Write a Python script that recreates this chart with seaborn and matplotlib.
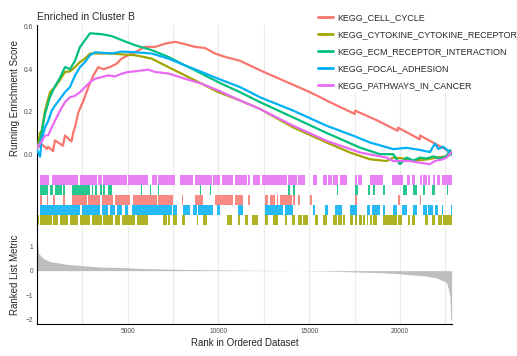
import numpy as np
import pandas as pd
import matplotlib
matplotlib.use('Agg')
import matplotlib.pyplot as plt
from matplotlib.lines import Line2D
from matplotlib.patches import Rectangle
import seaborn as sns

sns.set_style('white')
plt.rcParams['font.family'] = ['Liberation Sans', 'DejaVu Sans']

n_genes = 22850
gene_sets = ['KEGG_CELL_CYCLE', 'KEGG_CYTOKINE_CYTOKINE_RECEPTOR_INTERACTION',
             'KEGG_ECM_RECEPTOR_INTERACTION', 'KEGG_FOCAL_ADHESION',
             'KEGG_PATHWAYS_IN_CANCER']
colors = ['#F8766D', '#A3A500', '#00BF7D', '#00B0F6', '#E76BF3']

# running enrichment score
cell_cycle_rank = [1, 165, 276, 551, 606, 880, 990, 1430, 1540, 1900, 1990, 2090, 2275, 2550,
                   2830, 3105, 3380, 3655, 4020, 4390, 4665, 5035, 5400, 5950, 6500, 7055,
                   7600, 8155, 8705, 9255, 9810, 10360, 11185, 12290, 13760, 15040, 16330,
                   17500, 17530, 18720, 19880, 19900, 21090, 21110, 22575, 22850]
cell_cycle_es = [0.04, 0.035, 0.045, 0.025, 0.035, 0.015, 0.065, 0.04, 0.088, 0.06, 0.10,
                 0.126, 0.197, 0.25, 0.316, 0.371, 0.41, 0.40, 0.41, 0.426, 0.45, 0.466,
                 0.48, 0.505, 0.505, 0.52, 0.529, 0.518, 0.505, 0.50, 0.474, 0.458, 0.44,
                 0.395, 0.34, 0.292, 0.237, 0.19, 0.205, 0.16, 0.11, 0.125, 0.07, 0.088,
                 0.02, 0.0]

cytokine_rank = [1, 72, 165, 257, 440, 716, 992, 1267, 1543, 1818, 2094, 2369, 2645, 2920,
                 3564, 4115, 4667, 5400, 6320, 7235, 8155, 9075, 9990, 11185, 12290, 14120,
                 15960, 17250, 18350, 19260, 19630, 20180, 20740, 21470, 22020, 22570, 22850]
cytokine_es = [0.03, 0.05, 0.1, 0.11, 0.205, 0.292, 0.316, 0.35, 0.387, 0.39, 0.41, 0.434,
               0.45, 0.474, 0.474, 0.474, 0.47, 0.466, 0.45, 0.41, 0.371, 0.332, 0.292,
               0.253, 0.213, 0.126, 0.055, 0.008, -0.024, -0.032, -0.016, -0.02, -0.03,
               -0.025, -0.016, -0.01, 0.0]

ecm_rank = [1, 165, 440, 716, 992, 1267, 1543, 1818, 2094, 2369, 2645, 2920, 3564, 4115,
            4667, 5400, 6320, 7235, 8155, 9075, 9990, 11185, 12290, 14120, 15960, 17800,
            18900, 19630, 20000, 20370, 20740, 21100, 21470, 21840, 22200, 22570, 22760, 22850]
ecm_es = [0.03, 0.06, 0.19, 0.27, 0.32, 0.36, 0.41, 0.40, 0.44, 0.505, 0.537, 0.569, 0.565,
          0.556, 0.537, 0.513, 0.49, 0.458, 0.418, 0.379, 0.339, 0.292, 0.245, 0.173, 0.10,
          0.031, 0.0, 0.0, -0.047, -0.016, -0.03, -0.016, -0.02, -0.01, -0.02, -0.01, 0.02, 0.0]

focal_rank = [1, 165, 257, 440, 625, 808, 992, 1267, 1543, 1818, 2094, 2369, 2645, 2920,
              3196, 4115, 4667, 5400, 6320, 7235, 8155, 9075, 9990, 11185, 12290, 14120,
              15960, 17430, 18350, 19630, 20370, 21100, 21650, 21930, 22110, 22390, 22670, 22850]
focal_es = [0.02, -0.012, 0.07, 0.126, 0.158, 0.205, 0.229, 0.26, 0.292, 0.316, 0.371, 0.41,
            0.434, 0.466, 0.48, 0.474, 0.483, 0.48, 0.474, 0.45, 0.418, 0.387, 0.355, 0.316,
            0.268, 0.205, 0.134, 0.087, 0.055, 0.024, 0.03, 0.02, 0.01, 0.05, 0.025, 0.035,
            0.015, 0.0]

cancer_rank = [1, 72, 257, 440, 625, 808, 992, 1267, 1543, 1818, 2094, 2369, 2645, 2920,
               3196, 3564, 3930, 4300, 4667, 5035, 5400, 6135, 6500, 7235, 8155, 9075, 9990,
               11185, 12290, 14120, 15960, 17800, 19260, 19630, 20550, 21100, 21650, 21930,
               22300, 22570, 22850]
cancer_es = [0.03, 0.04, 0.06, 0.087, 0.09, 0.126, 0.158, 0.205, 0.245, 0.268, 0.275, 0.292,
             0.316, 0.339, 0.355, 0.363, 0.371, 0.366, 0.379, 0.387, 0.39, 0.398, 0.387, 0.38,
             0.355, 0.332, 0.30, 0.253, 0.213, 0.134, 0.063, 0.008, -0.016, -0.032, -0.032,
             -0.04, -0.047, -0.032, -0.025, -0.016, 0.01]

# gene set hits as (start, end) rank spans
cell_cycle_hits = [(165, 276), (551, 606), (882, 992), (1433, 1543), (1929, 2755), (2810, 3471),
                   (3582, 4188), (4298, 5124), (5290, 6612), (6667, 7494), (7690, 7740),
                   (7990, 8045), (8706, 9147), (9808, 10800), (10910, 11351), (11626, 11736),
                   (12563, 12728), (12838, 13114), (13224, 13279), (13389, 14051), (14106, 14216),
                   (14381, 14491), (15043, 15153), (17522, 17632), (19891, 20001), (21103, 21158)]
cytokine_hits = [(0, 110), (165, 827), (882, 1157), (1267, 1708), (1818, 2259), (2369, 2920),
                 (3030, 3582), (3637, 4188), (4298, 4573), (4684, 5400), (5510, 6116),
                 (6943, 7163), (7218, 7329), (7494, 7714), (7855, 7905), (7990, 8155),
                 (8295, 8345), (8816, 8871), (9147, 9367), (9510, 9560), (9785, 9835),
                 (9950, 10000), (10469, 10745), (11075, 11185), (11461, 11626), (11846, 12177),
                 (12563, 12728), (13004, 13279), (13665, 13775), (14051, 14216), (14381, 14602),
                 (14657, 14932), (15318, 15483), (15759, 15979), (16310, 16530), (16585, 16806),
                 (16861, 16971), (17246, 17412), (17522, 17632), (17742, 17908), (17963, 18073),
                 (18183, 18238), (18348, 18459), (18514, 18734), (19065, 19836), (19891, 20112),
                 (20442, 20552), (20663, 20828), (21379, 21544), (21765, 21930), (22095, 22316),
                 (22400, 22850)]
ecm_hits = [(165, 610), (715, 880), (990, 1380), (1430, 1540), (1930, 2920), (3030, 3090),
            (3200, 3310), (3470, 3580), (3640, 3750), (3910, 4130), (5745, 5795), (6205, 6255),
            (6365, 6415), (6645, 6695), (7635, 7685), (8960, 9010), (9560, 9610), (11160, 11210),
            (11600, 11650), (13830, 13940), (14110, 14220), (16530, 16590), (17520, 17690),
            (18240, 18350), (18510, 18620), (19070, 19180), (20170, 20390), (20420, 20470),
            (20720, 20940), (21270, 21380), (21770, 21930), (22590, 22650)]
focal_hits = [(165, 2369), (2480, 3471), (3582, 3912), (4022, 4298), (4408, 4684), (4849, 5014),
              (5235, 7439), (7494, 7714), (8045, 8431), (8596, 8816), (8871, 9698), (9918, 10083),
              (10335, 10385), (11075, 11351), (11600, 11650), (12563, 13555), (13665, 14106),
              (15208, 15318), (15869, 16034), (16420, 16806), (17246, 17632), (18183, 18348),
              (18459, 18899), (19065, 19175), (19616, 19836), (20112, 20387), (20718, 20938),
              (21269, 21489), (21544, 21820), (21930, 22095), (22316, 22371), (22800, 22850)]
cancer_hits = [(170, 660), (830, 2260), (2370, 3310), (3360, 3580), (3640, 4960), (5010, 6120),
               (6340, 6610), (6670, 7600), (7880, 8600), (8710, 9640), (9700, 10080),
               (10190, 10800), (10910, 11570), (11626, 11736), (11902, 12287), (12398, 13775),
               (13830, 14326), (14381, 14767), (15208, 15428), (15759, 15979), (16034, 16255),
               (16310, 16585), (16695, 17081), (17522, 17632), (17687, 17908), (18348, 19065),
               (19561, 20167), (20387, 20552), (20663, 20828), (21103, 21214), (21269, 21489),
               (21544, 21654), (21820, 21930), (22040, 22205), (22316, 22850)]

# ranked list metric
metric_rank = [1, 20, 75, 350, 720, 1640, 2550, 3470, 4940, 5680, 8000, 10000, 12000, 14500,
               16500, 17800, 18900, 19600, 20000, 21100, 21470, 22020, 22480, 22570, 22665,
               22755, 22800, 22850]
metric_value = [1.85, 1.2, 0.71, 0.5, 0.37, 0.26, 0.2, 0.15, 0.12, 0.09, 0.05, 0.03, 0.015,
                0.0, -0.03, -0.06, -0.08, -0.11, -0.13, -0.2, -0.22, -0.3, -0.45, -0.5, -0.72,
                -1.06, -2.0, -2.05]

es_frames = []
for name, r, v in zip(gene_sets,
                      [cell_cycle_rank, cytokine_rank, ecm_rank, focal_rank, cancer_rank],
                      [cell_cycle_es, cytokine_es, ecm_es, focal_es, cancer_es]):
    es_frames.append(pd.DataFrame({'rank': r, 'es': v, 'set': name}))
es_df = pd.concat(es_frames, ignore_index=True)

fig = plt.figure(figsize=(5.17, 3.56), dpi=100)
left, width = 0.0716, 0.802
ax1 = fig.add_axes([left, 0.5197, width, 0.410])
ax2 = fig.add_axes([left, 0.365, width, 0.1545])
ax3 = fig.add_axes([left, 0.0899, width, 0.275])

grid_kw = dict(color='#EBEBEB', lw=0.8)
for ax in (ax1, ax2, ax3):
    ax.set_xlim(0, n_genes)
    ax.set_xticks([5000, 10000, 15000, 20000])
    ax.set_xticks(np.arange(2500, n_genes, 5000), minor=True)
    ax.grid(axis='x', which='both', **grid_kw)
    ax.grid(axis='y', visible=False)
    ax.set_axisbelow(True)
    for s in ('top', 'right'):
        ax.spines[s].set_visible(False)
    ax.spines['left'].set_color('black')
    ax.spines['left'].set_linewidth(0.8)
    ax.tick_params(axis='both', which='both', length=1.8, width=0.6, color='#333333',
                   labelsize=4.8, labelcolor='#4D4D4D', pad=1.0)
    ax.tick_params(axis='x', which='minor', length=0)

# top: running ES
sns.lineplot(data=es_df, x='rank', y='es', hue='set', hue_order=gene_sets, palette=colors,
             estimator=None, sort=False, lw=1.6, legend=False, ax=ax1, zorder=3)
ax1.set_ylim(-0.079, 0.608)
ax1.set_yticks([0.0, 0.2, 0.4, 0.6])
ax1.set_yticklabels(['0.0', '0.2', '0.4', '0.6'])
ax1.spines['bottom'].set_visible(False)
ax1.tick_params(axis='x', which='both', length=0, labelbottom=False)
ax1.set_xlabel('')
ax1.set_ylabel('Running Enrichment Score', fontsize=7)
ax1.yaxis.set_label_coords(-0.041, 0.5)
# white legend backdrop hides the gridlines, lines stay on top
ax1.add_patch(Rectangle((305 / 517, 1 - 92 / 356), 1, 1, transform=fig.transFigure,
                        facecolor='white', edgecolor='none', zorder=1.5, clip_on=False))

# middle: hits, rows from bottom
row_order = [(cytokine_hits, colors[1]), (focal_hits, colors[3]), (cell_cycle_hits, colors[0]),
             (ecm_hits, colors[2]), (cancer_hits, colors[4])]
for i, (spans, col) in enumerate(row_order):
    ax2.broken_barh([(s, e - s) for s, e in spans], (0.1 + i, 1.0), facecolors=col,
                    alpha=0.85, lw=0)
ax2.set_ylim(0, 5.5)
ax2.set_yticks([])
ax2.spines['bottom'].set_visible(False)
ax2.tick_params(axis='x', which='both', length=0, labelbottom=False)

# bottom: ranked list metric
ax3.fill_between(metric_rank, metric_value, 0, color='#BEBEBE', lw=0)
ax3.set_ylim(-2.18, 1.82)
ax3.set_yticks([-2, -1, 0, 1])
ax3.set_yticklabels(['\u22122', '\u22121', '0', '1'])
ax3.set_xticklabels(['5000', '10000', '15000', '20000'])
ax3.spines['bottom'].set_color('black')
ax3.spines['bottom'].set_linewidth(0.8)
ax3.set_ylabel('Ranked List Metric', fontsize=7)
ax3.yaxis.set_label_coords(-0.041, 0.5)
ax3.set_xlabel('Rank in Ordered Dataset', fontsize=7, labelpad=2)

fig.text(left, 0.9438, 'Enriched in Cluster B', fontsize=7.5, va='baseline', ha='left')

handles = [Line2D([0], [0], color=c, lw=2) for c in colors]
fig.legend(handles, gene_sets, loc='upper left', bbox_to_anchor=(0.606, 0.976),
           borderaxespad=0, borderpad=0.5, fontsize=6.4, frameon=False,
           handlelength=1.7, handletextpad=0.45, labelspacing=0.9)

fig.savefig('out.png', dpi=100)
